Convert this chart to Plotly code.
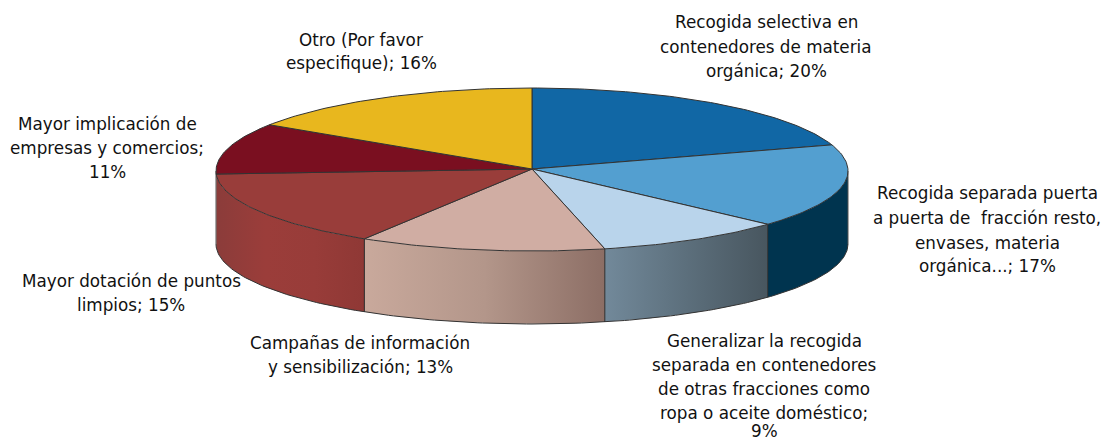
import math
import plotly.graph_objects as go

# ---- data
categories = [
    "Recogida selectiva en contenedores de materia orgánica",
    "Recogida separada puerta a puerta de fracción resto, envases, materia orgánica...",
    "Generalizar la recogida separada en contenedores de otras fracciones como ropa o aceite doméstico",
    "Campañas de información y sensibilización",
    "Mayor dotación de puntos limpios",
    "Mayor implicación de empresas y comercios",
    "Otro (Por favor especifique)",
]
# shares (the printed labels round them)
values = [19.9, 16.7, 9.7, 12.6, 15.5, 10.0, 15.6]
printed_percent = [20, 17, 9, 13, 15, 11, 16]

label_lines = [
    ["Recogida selectiva en", "contenedores de materia", "orgánica; 20%"],
    ["Recogida separada puerta", "a puerta de  fracción resto,", "envases, materia", "orgánica...; 17%"],
    ["Generalizar la recogida", "separada en contenedores", "de otras fracciones como", "ropa o aceite doméstico;", "9%"],
    ["Campañas de información", "y sensibilización; 13%"],
    ["Mayor dotación de puntos", "limpios; 15%"],
    ["Mayor implicación de", "empresas y comercios;", "11%"],
    ["Otro (Por favor", "especifique); 16%"],
]

# ---- styling / geometry
label_x = [766, 987, 764, 360, 131, 107, 361]
label_y = [[22, 47, 71], [193, 218, 243, 266], [341, 365, 389, 413, 430.5],
           [343, 367], [281, 305], [124, 148, 172], [40, 63]]
top_colors = ["#1167A5", "#539FD0", "#B9D4EB", "#D0ADA3", "#993D3A", "#7A0F20", "#E8B71E"]
wall_stops = {
    1: ["#00344F", "#00344F"],
    2: ["#72899A", "#5C6F7C", "#48565F"],
    3: ["#C9A99C", "#B3968A", "#8C6E65"],
    4: ["#8B3C3A", "#9B3D3A", "#983C39", "#8F3835"],
}
CX, CY, RX, RY_TOP, RY_BOT = 532, 171, 316, 83, 80
APEX_Y, DEPTH = 169, 73
LINE = "#333333"


def rim(theta, down=0):
    s, c = math.sin(theta), math.cos(theta)
    ry = RY_BOT if c < 0 else RY_TOP
    return CX + RX * s, CY - ry * c + down


total = sum(values)
edges = [0.0]
for v in values:
    edges.append(edges[-1] + v / total * 2 * math.pi)

fig = go.Figure()


def path(xs, ys, color=LINE):
    fig.add_trace(go.Scatter(x=xs, y=ys, mode="lines", line=dict(color=color, width=1),
                             hoverinfo="skip", showlegend=False))


# side walls (visible front half only), horizontal gradient via fillgradient
for i, stops in wall_stops.items():
    a0 = max(edges[i], math.pi / 2)
    a1 = min(edges[i + 1], 3 * math.pi / 2)
    ths = [a0 + (a1 - a0) * k / 40 for k in range(41)]
    xs = [rim(t)[0] for t in ths] + [rim(t, DEPTH)[0] for t in reversed(ths)]
    ys = [rim(t)[1] for t in ths] + [rim(t, DEPTH)[1] for t in reversed(ths)]
    xs.append(xs[0])
    ys.append(ys[0])
    scale = [[k / (len(stops) - 1), c] for k, c in enumerate(stops)]
    fig.add_trace(go.Scatter(
        x=xs, y=ys, mode="lines", fill="toself",
        fillgradient=dict(type="horizontal", colorscale=scale),
        line=dict(width=0), hoverinfo="skip", showlegend=False))

# wall outlines
front = [math.pi / 2 + math.pi * k / 180 for k in range(181)]
path([rim(t, DEPTH)[0] for t in front], [rim(t, DEPTH)[1] for t in front])
for i in (2, 3, 4):
    x, y = rim(edges[i])
    path([x, x], [y, y + DEPTH], "#2a2a2a")
for t in (math.pi / 2, 3 * math.pi / 2):
    x, y = rim(t)
    path([x, x], [y, y + DEPTH], "#555555")

# top face
for i, col in enumerate(top_colors):
    steps = max(8, int((edges[i + 1] - edges[i]) * 60))
    ths = [edges[i] + (edges[i + 1] - edges[i]) * k / steps for k in range(steps + 1)]
    xs = [CX] + [rim(t)[0] for t in ths] + [CX]
    ys = [APEX_Y] + [rim(t)[1] for t in ths] + [APEX_Y]
    fig.add_trace(go.Scatter(
        x=xs, y=ys, mode="lines", fill="toself", fillcolor=col,
        line=dict(color=LINE, width=1), hoverinfo="text",
        text="%s; %d%%" % (categories[i], printed_percent[i]), showlegend=False))

annotations = []
for lines, lx, lys in zip(label_lines, label_x, label_y):
    for txt, ly in zip(lines, lys):
        annotations.append(dict(x=lx, y=ly, text=txt, showarrow=False, xanchor="center",
                                yanchor="middle", borderpad=0,
                                font=dict(family="DejaVu Sans", size=16.8, color="#111111")))

fig.update_layout(
    width=1104, height=441, margin=dict(l=0, r=0, t=0, b=0),
    paper_bgcolor="white", plot_bgcolor="white", showlegend=False,
    xaxis=dict(range=[0, 1104], visible=False, fixedrange=True),
    yaxis=dict(range=[441, 0], visible=False, fixedrange=True),
    annotations=annotations,
)
fig.write_html("out.html", config={"displayModeBar": False},
               post_script="document.body.style.margin='0';document.body.style.overflow='hidden';")
